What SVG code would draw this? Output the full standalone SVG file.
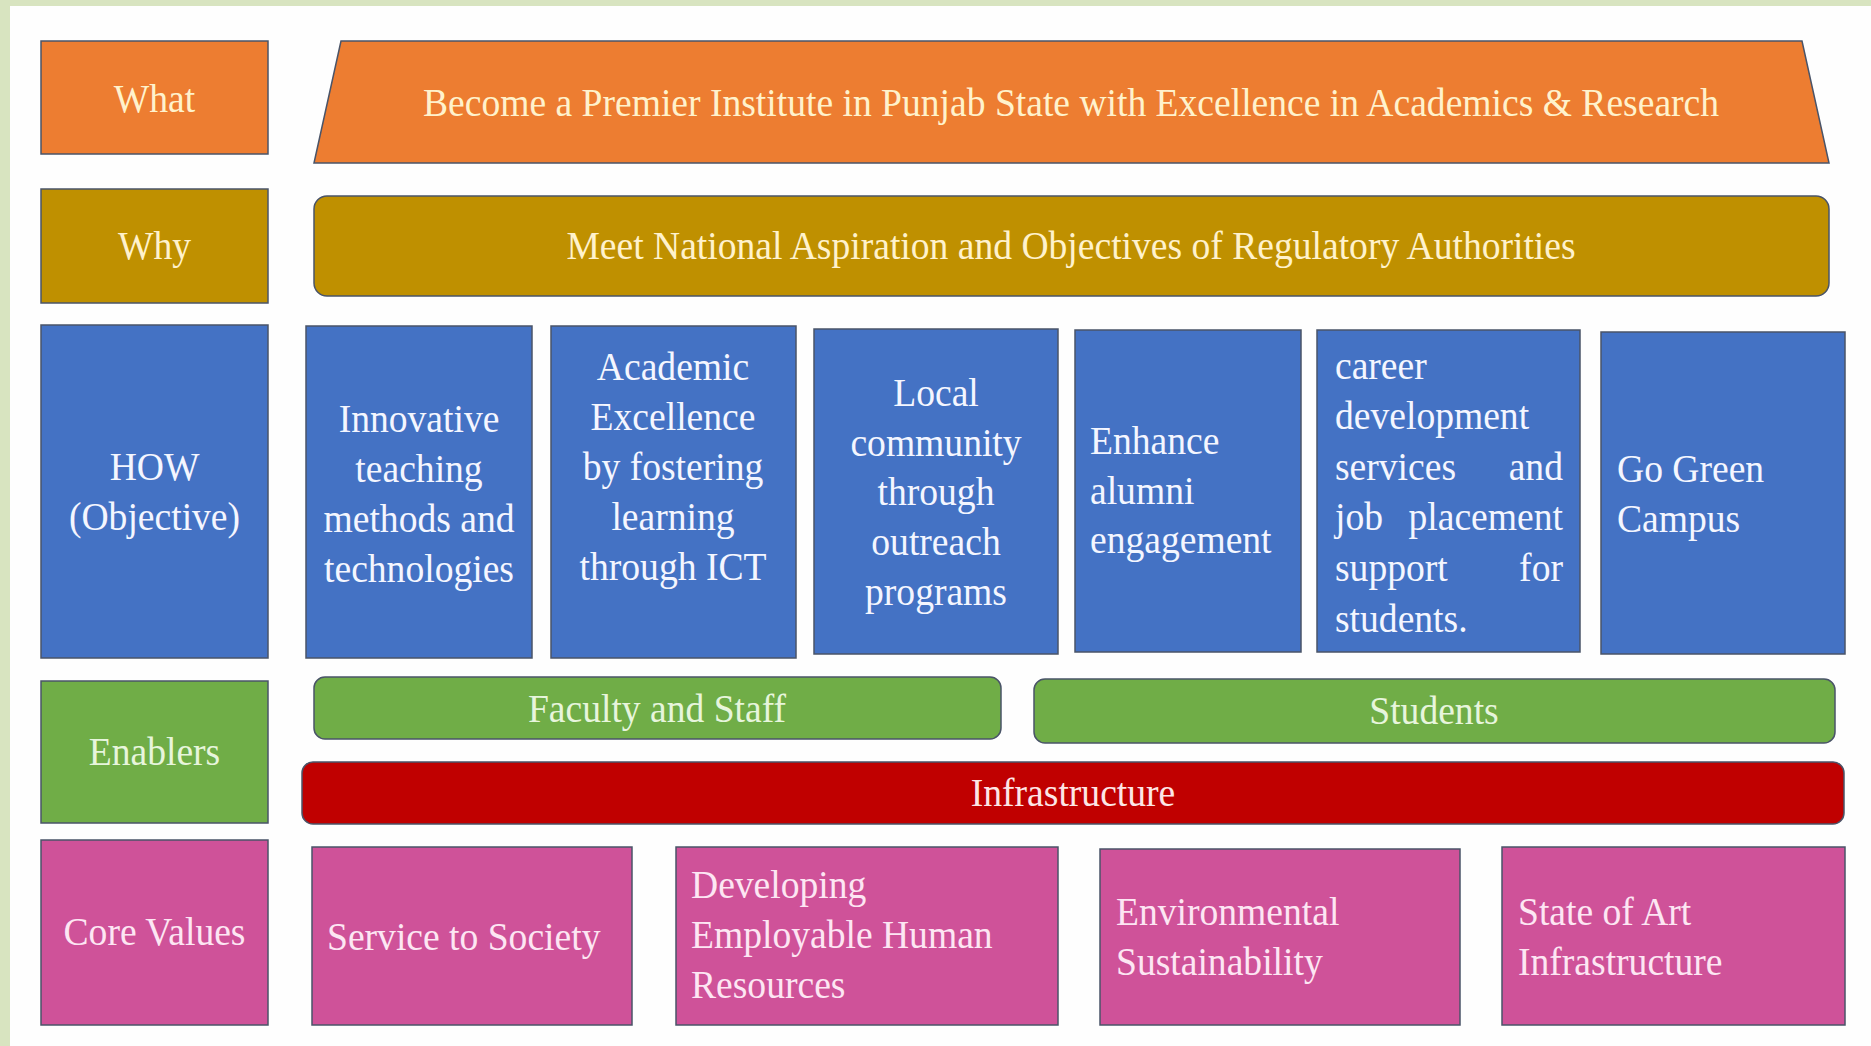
<svg xmlns="http://www.w3.org/2000/svg" width="1871" height="1046" viewBox="0 0 1871 1046">
<style>
.bx{stroke:#4a5468;stroke-width:1.5}
.or{fill:#ed7d31}.gd{fill:#bf9000}.bl{fill:#4472c4}.gr{fill:#70ad47}.rd{fill:#c00000}.pk{fill:#cf5299}
text{font-family:"Liberation Serif","Times New Roman",serif;font-size:40px}
.c{text-anchor:middle}
.tor{fill:#fff2cc}.tgd{fill:#fff2cc}.tbl{fill:#f4f6ff}.tgr{fill:#e7f5dc}.trd{fill:#fde6e6}.tpk{fill:#fde6f3}
</style>
<rect x="0" y="0" width="1871" height="1046" fill="#fefefe"/>
<rect x="0" y="0" width="1871" height="6" fill="#d8e4c0"/>
<rect x="0" y="0" width="10" height="1046" fill="#d8e4c0"/>

<g id="what-label"><rect class="bx or" x="41" y="41" width="227" height="113"/><text class="c tor" transform="matrix(.94 0 0 1 154.5 0)" x="0" y="112">What</text></g>
<g id="what-main"><polygon class="bx or" points="341,41 1802,41 1829,163 314,163"/><text class="c tor" transform="matrix(.94 0 0 1 1071 0)" x="0" y="116">Become a Premier Institute in Punjab State with Excellence in Academics &amp; Research</text></g>

<g id="why-label"><rect class="bx gd" x="41" y="189" width="227" height="114"/><text class="c tgd" transform="matrix(.94 0 0 1 154.5 0)" x="0" y="259">Why</text></g>
<g id="why-main"><rect class="bx gd" x="314" y="196" width="1515" height="100" rx="13"/><text class="c tgd" transform="matrix(.94 0 0 1 1071 0)" x="0" y="259">Meet National Aspiration and Objectives of Regulatory Authorities</text></g>

<g id="how-label"><rect class="bx bl" x="41" y="325" width="227" height="333"/><text class="c tbl" transform="matrix(.94 0 0 1 154.5 0)"><tspan x="0" y="480">HOW</tspan><tspan x="0" y="530">(Objective)</tspan></text></g>
<g id="how-1"><rect class="bx bl" x="306" y="326" width="226" height="332"/><text class="c tbl" transform="matrix(.94 0 0 1 419 0)"><tspan x="0" y="432">Innovative</tspan><tspan x="0" y="482">teaching</tspan><tspan x="0" y="532">methods and</tspan><tspan x="0" y="582">technologies</tspan></text></g>
<g id="how-2"><rect class="bx bl" x="551" y="326" width="245" height="332"/><text class="c tbl" transform="matrix(.94 0 0 1 673 0)"><tspan x="0" y="380">Academic</tspan><tspan x="0" y="430">Excellence</tspan><tspan x="0" y="480">by fostering</tspan><tspan x="0" y="530">learning</tspan><tspan x="0" y="580">through ICT</tspan></text></g>
<g id="how-3"><rect class="bx bl" x="814" y="329" width="244" height="325"/><text class="c tbl" transform="matrix(.94 0 0 1 936 0)"><tspan x="0" y="406">Local</tspan><tspan x="0" y="456">community</tspan><tspan x="0" y="505">through</tspan><tspan x="0" y="555">outreach</tspan><tspan x="0" y="605">programs</tspan></text></g>
<g id="how-4"><rect class="bx bl" x="1075" y="330" width="226" height="322"/><text class="tbl" transform="matrix(.94 0 0 1 1090 0)"><tspan x="0" y="454">Enhance</tspan><tspan x="0" y="504">alumni</tspan><tspan x="0" y="553">engagement</tspan></text></g>
<g id="how-5"><rect class="bx bl" x="1317" y="330" width="263" height="322"/><text class="tbl" transform="matrix(.94 0 0 1 1335 0)"><tspan x="0" y="379">career</tspan><tspan x="0" y="429">development</tspan><tspan x="0" y="480">services</tspan><tspan x="242.5" y="480" text-anchor="end">and</tspan><tspan x="0" y="530">job</tspan><tspan x="242.5" y="530" text-anchor="end">placement</tspan><tspan x="0" y="581">support</tspan><tspan x="242.5" y="581" text-anchor="end">for</tspan><tspan x="0" y="632">students.</tspan></text></g>
<g id="how-6"><rect class="bx bl" x="1601" y="332" width="244" height="322"/><text class="tbl" transform="matrix(.94 0 0 1 1617 0)"><tspan x="0" y="482">Go Green</tspan><tspan x="0" y="532">Campus</tspan></text></g>

<g id="enablers-label"><rect class="bx gr" x="41" y="681" width="227" height="142"/><text class="c tgr" transform="matrix(.94 0 0 1 154.5 0)" x="0" y="765">Enablers</text></g>
<g id="enabler-faculty"><rect class="bx gr" x="314" y="677" width="687" height="62" rx="11"/><text class="c tgr" transform="matrix(.94 0 0 1 657 0)" x="0" y="722">Faculty and Staff</text></g>
<g id="enabler-students"><rect class="bx gr" x="1034" y="679" width="801" height="64" rx="11"/><text class="c tgr" transform="matrix(.94 0 0 1 1434 0)" x="0" y="724">Students</text></g>
<g id="enabler-infrastructure"><rect class="bx rd" x="302" y="762" width="1542" height="62" rx="11"/><text class="c trd" transform="matrix(.94 0 0 1 1073 0)" x="0" y="806">Infrastructure</text></g>

<g id="core-label"><rect class="bx pk" x="41" y="840" width="227" height="185"/><text class="c tpk" transform="matrix(.94 0 0 1 154.5 0)" x="0" y="945">Core Values</text></g>
<g id="core-1"><rect class="bx pk" x="312" y="847" width="320" height="178"/><text class="tpk" transform="matrix(.94 0 0 1 327 0)" x="0" y="950">Service to Society</text></g>
<g id="core-2"><rect class="bx pk" x="676" y="847" width="382" height="178"/><text class="tpk" transform="matrix(.94 0 0 1 691 0)"><tspan x="0" y="898">Developing</tspan><tspan x="0" y="948">Employable Human</tspan><tspan x="0" y="998">Resources</tspan></text></g>
<g id="core-3"><rect class="bx pk" x="1100" y="849" width="360" height="176"/><text class="tpk" transform="matrix(.94 0 0 1 1116 0)"><tspan x="0" y="925">Environmental</tspan><tspan x="0" y="975">Sustainability</tspan></text></g>
<g id="core-4"><rect class="bx pk" x="1502" y="847" width="343" height="178"/><text class="tpk" transform="matrix(.94 0 0 1 1518 0)"><tspan x="0" y="925">State of Art</tspan><tspan x="0" y="975">Infrastructure</tspan></text></g>

<g id="connectors"></g>
</svg>
